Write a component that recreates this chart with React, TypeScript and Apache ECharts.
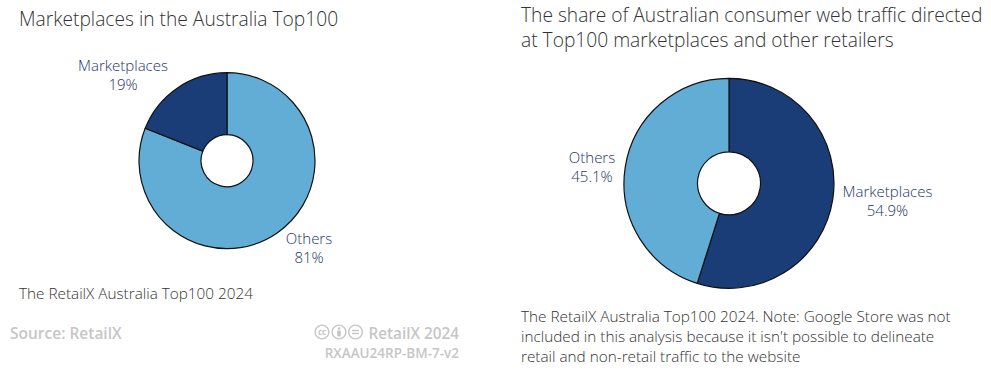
import React, { useEffect, useRef } from "react";
import * as echarts from "echarts";

const leftCategories = ["Others", "Marketplaces"];
const leftValues = [81, 19];
const leftLabels = ["81%", "19%"];
const leftColors = ["#62add6", "#1a3c77"];
const rightCategories = ["Marketplaces", "Others"];
const rightValues = [54.9, 45.1];
const rightLabels = ["54.9%", "45.1%"];
const rightColors = ["#1a3c77", "#62add6"];
const FONT = '"Open Sans"';
const TEXT = "#1f3566";
const DARK = "#333333";
const GREY = "#c6c6c6";

const t = (x: number, y: number, text: string, size: number, fill: string, align = "left", weight: any = 300) => ({
  type: "text", x, y,
  style: { text, fontFamily: FONT, fontSize: size, fill, align, verticalAlign: "middle", fontWeight: weight },
});

function pie(cx: number, cy: number, inner: number, outer: number, names: string[], values: number[], pcts: string[], cols: string[], pos: [number, number][]) {
  return {
    type: "pie",
    center: [cx, cy],
    radius: [inner, outer],
    startAngle: 90,
    clockwise: true,
    silent: true,
    itemStyle: { borderColor: "#111", borderWidth: 1.2 },
    labelLine: { show: false },
    labelLayout: (p: any) => ({ x: pos[p.dataIndex][0], y: pos[p.dataIndex][1], align: "center", verticalAlign: "middle" }),
    data: names.map((name, i) => ({
      name,
      value: values[i],
      itemStyle: { color: cols[i] },
      label: {
        show: true,
        position: "outside",
        formatter: `${name}\n${pcts[i]}`,
        fontFamily: FONT,
        fontSize: 15,
        fontWeight: 300,
        lineHeight: 19,
        color: TEXT,
        align: "center",
      },
    })),
  };
}

export default function App() {
  const ref = useRef<HTMLDivElement>(null);
  useEffect(() => {
    document.body.style.margin = "0";
    const chart = echarts.init(ref.current!, undefined, { renderer: "svg" });
    const ring = (x: number) => ({ type: "circle", shape: { cx: x, cy: 332, r: 6.8 }, style: { fill: "none", stroke: GREY, lineWidth: 1.4 } });
    chart.setOption({
      animation: false,
      backgroundColor: "#fff",
      series: [
        pie(227, 160.7, 26, 88, leftCategories, leftValues, leftLabels, leftColors, [[309, 247], [123, 74.5]]),
        pie(729, 183.3, 31.5, 105, rightCategories, rightValues, rightLabels, rightColors, [[887.5, 200], [592, 166.5]]),
      ],
      graphic: [
        t(19, 18, "Marketplaces in the Australia Top100", 19.2, DARK),
        t(521, 14, "The share of Australian consumer web traffic directed", 19.2, DARK),
        t(521, 39, "at Top100 marketplaces and other retailers", 19.2, DARK),
        t(19, 293, "The RetailX Australia Top100 2024", 15.3, DARK),
        t(521, 316, "The RetailX Australia Top100 2024. Note: Google Store was not", 15.3, DARK),
        t(521, 336, "included in this analysis because it isn't possible to delineate", 15.3, DARK),
        t(521, 356, "retail and non-retail traffic to the website", 15.3, DARK),
        t(10, 333, "Source: RetailX", 15.5, GREY, "left", 600),
        t(459, 333, "RetailX 2024", 15.3, GREY, "right", 600),
        t(459, 353, "RXAAU24RP-BM-7-v2", 13.5, GREY, "right", 600),
        ring(322),
        { type: "text", x: 322, y: 331.5, style: { text: "cc", fontFamily: FONT, fontSize: 8, fontWeight: "bold", fill: GREY, align: "center", verticalAlign: "middle" } },
        ring(339),
        { type: "circle", shape: { cx: 339, cy: 328.5, r: 1.3 }, style: { fill: GREY } },
        { type: "rect", shape: { x: 337.2, y: 330.5, width: 3.6, height: 6 }, style: { fill: GREY } },
        ring(355.5),
        { type: "rect", shape: { x: 352, y: 329.8, width: 7, height: 1.4 }, style: { fill: GREY } },
        { type: "rect", shape: { x: 352, y: 332.8, width: 7, height: 1.4 }, style: { fill: GREY } },
      ],
    });
    return () => chart.dispose();
  }, []);
  return <div ref={ref} style={{ width: 991, height: 376 }} />;
}
